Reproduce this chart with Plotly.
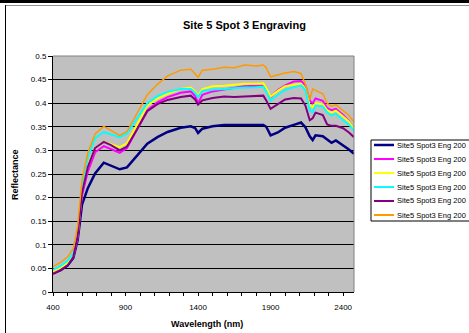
import plotly.graph_objects as go

# Wavelengths (nm) at which the reflectance spectra are sampled
wavelength = [400, 450, 500, 540, 570, 600, 640, 690, 750, 800, 860, 910, 980, 1050,
              1120, 1190, 1280, 1350, 1380, 1400, 1430, 1500, 1580, 1650, 1720, 1800,
              1850, 1870, 1900, 1950, 2000, 2060, 2110, 2140, 2170, 2190, 2210, 2260,
              2290, 2320, 2350, 2400, 2440, 2475]

eng_navy = [.040, .046, .056, .072, .110, .185, .220, .251, .274, .268, .260, .264, .290, .314,
            .328, .339, .348, .351, .347, .337, .346, .351, .354, .354, .355, .354,
            .354, .350, .332, .338, .348, .354, .359, .349, .330, .322, .332, .330,
            .322, .316, .321, .311, .302, .293]
eng_magenta = [.040, .048, .058, .074, .115, .205, .255, .296, .309, .302, .295, .305, .345, .385,
               .402, .413, .422, .425, .415, .400, .418, .425, .429, .432, .436, .437,
               .438, .428, .413, .428, .438, .446, .447, .438, .405, .400, .410, .405,
               .390, .385, .388, .375, .362, .345]
eng_yellow = [.044, .051, .062, .078, .120, .215, .268, .305, .318, .313, .307, .315, .355, .395,
              .410, .420, .430, .433, .425, .416, .430, .436, .437, .439, .441, .441,
              .442, .432, .414, .426, .436, .439, .441, .430, .395, .392, .400, .398,
              .385, .380, .384, .372, .361, .345]
eng_cyan = [.047, .055, .066, .082, .125, .225, .285, .326, .339, .334, .328, .336, .368, .400,
            .415, .424, .430, .430, .422, .413, .426, .429, .430, .432, .433, .434,
            .435, .425, .406, .418, .428, .434, .438, .428, .385, .381, .395, .393,
            .380, .374, .378, .364, .355, .342]
eng_purple = [.038, .046, .056, .074, .118, .210, .265, .305, .318, .311, .300, .308, .345, .383,
              .398, .407, .413, .416, .408, .397, .406, .411, .414, .413, .414, .415,
              .416, .406, .388, .398, .408, .411, .410, .395, .364, .368, .380, .375,
              .355, .352, .352, .347, .338, .328]
eng_orange = [.054, .062, .074, .092, .140, .237, .295, .335, .351, .343, .332, .340, .378, .418,
              .440, .458, .470, .472, .462, .455, .470, .472, .476, .475, .481, .479,
              .481, .475, .456, .460, .464, .467, .463, .440, .408, .430, .427, .420,
              .400, .393, .397, .385, .374, .360]

series_names = ["Site5 Spot3 Eng 200"] * 6
series_values = [eng_navy, eng_magenta, eng_yellow, eng_cyan, eng_purple, eng_orange]
series_colors = ["#000080", "#FF00FF", "#FFFF00", "#00FFFF", "#800080", "#FF9900"]
series_widths = [2.5, 2, 2, 2, 2, 1.5]

y_ticks = [0, 0.05, 0.1, 0.15, 0.2, 0.25, 0.3, 0.35, 0.4, 0.45, 0.5]
y_tick_text = ["0", "0.05", "0.1", "0.15", "0.2", "0.25", "0.3", "0.35", "0.4", "0.45", "0.5"]
x_ticks = [400, 900, 1400, 1900, 2400]

FONT = "Arial, Liberation Sans, sans-serif"

fig = go.Figure()
for name, vals, col, w in zip(series_names, series_values, series_colors, series_widths):
    fig.add_trace(go.Scatter(x=wavelength, y=vals, mode="lines", name=name,
                             line=dict(color=col, width=w), showlegend=False))

# plot area geometry in pixels
L, R, T, B = 53, 354, 56, 292
W, H = 469, 333


def px(x):
    return (x - L) / (R - L)


def py(y):
    return (B - y) / (B - T)


fig.update_layout(
    width=W, height=H,
    margin=dict(l=L, r=W - R, t=T, b=H - B, pad=0, autoexpand=False),
    paper_bgcolor="white",
    plot_bgcolor="#C0C0C0",
    font=dict(family=FONT, size=8, color="black"),
    showlegend=False,
    xaxis=dict(
        range=[400, 2475], tickmode="array", tickvals=x_ticks,
        ticks="outside", ticklen=0, ticklabelstandoff=7,
        showgrid=False, zeroline=False,
        showline=True, linecolor="black", linewidth=1,
        tickfont=dict(family=FONT, size=8, color="black"),
        minor=dict(dtick=100, tick0=400, ticks="outside", ticklen=3,
                   tickcolor="black", showgrid=False),
    ),
    yaxis=dict(
        range=[0, 0.5], tickmode="array", tickvals=y_ticks, ticktext=y_tick_text,
        ticks="outside", ticklen=4, tickcolor="black",
        showgrid=True, gridcolor="black", gridwidth=1, zeroline=False,
        showline=True, linecolor="black", linewidth=1,
        tickfont=dict(family=FONT, size=8, color="black"),
    ),
)

fig.add_annotation(text="<b>Site 5 Spot 3 Engraving</b>", xref="paper", yref="paper",
                   x=px(244), y=py(25), xanchor="center", yanchor="middle", showarrow=False,
                   font=dict(family=FONT, size=11, color="black"))
fig.add_annotation(text="<b>Reflectance</b>", xref="paper", yref="paper",
                   x=px(15), y=py(175), xanchor="center", yanchor="middle",
                   showarrow=False, textangle=-90,
                   font=dict(family=FONT, size=9, color="black"))
fig.add_annotation(text="<b>Wavelength (nm)</b>", xref="paper", yref="paper",
                   x=px(207), y=py(324), xanchor="center", yanchor="middle", showarrow=False,
                   font=dict(family=FONT, size=9, color="black"))

# plot-area border on top and right
fig.add_shape(type="line", xref="paper", yref="paper", x0=0, x1=1, y0=1, y1=1,
              line=dict(color="#808080", width=1))
fig.add_shape(type="line", xref="paper", yref="paper", x0=1, x1=1, y0=0, y1=1,
              line=dict(color="#808080", width=1))

# legend box with compact rows
LEG_X0, LEG_Y0, LEG_Y1 = 371, 140, 221
fig.add_shape(type="rect", xref="paper", yref="paper",
              x0=px(LEG_X0), x1=px(W + 20), y0=py(LEG_Y1), y1=py(LEG_Y0),
              fillcolor="white", line=dict(color="black", width=1))
for i, (name, col, w) in enumerate(zip(series_names, series_colors, series_widths)):
    yc = 145 + i * 14
    fig.add_shape(type="line", xref="paper", yref="paper",
                  x0=px(374), x1=px(394), y0=py(yc), y1=py(yc),
                  line=dict(color=col, width=max(w, 2)))
    fig.add_annotation(text=name, xref="paper", yref="paper", x=px(395), y=py(yc),
                       xanchor="left", yanchor="middle", showarrow=False,
                       font=dict(family=FONT, size=7.5, color="black"))

# chart frame
fig.add_shape(type="rect", xref="paper", yref="paper", x0=px(0), x1=px(W),
              y0=py(3), y1=py(0), fillcolor="black", line=dict(width=0))
fig.add_shape(type="line", xref="paper", yref="paper", x0=px(5), x1=px(W),
              y0=py(5.5), y1=py(5.5), line=dict(color="#909090", width=1))
fig.add_shape(type="line", xref="paper", yref="paper", x0=px(5.5), x1=px(5.5),
              y0=py(H), y1=py(5), line=dict(color="black", width=1))

fig.write_html("out.html")
